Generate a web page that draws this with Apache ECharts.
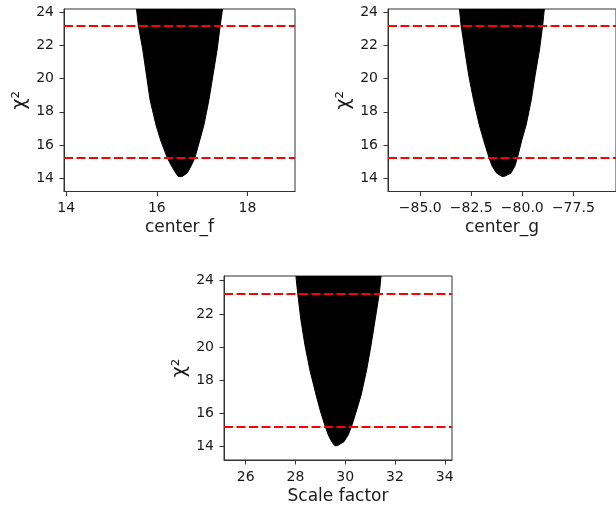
<!DOCTYPE html>
<html><head><meta charset="utf-8">
<script src="https://cdn.jsdelivr.net/npm/echarts@6/dist/echarts.min.js"></script>
<style>html,body{margin:0;padding:0;background:#fff}#c{width:616px;height:509px}</style>
</head><body><div id="c"></div>
<script>
// chi2 levels at which the edges of the sampled (black) region were read
const topLevels = [24.2, 23.23, 21.73, 20.22, 18.72, 17.21, 16.31, 15.22, 14.70, 14.30, 14.10];
const fLeft  = [15.55, 15.59, 15.69, 15.77, 15.85, 15.98, 16.08, 16.23, 16.33, 16.42, 16.47];
const fRight = [17.45, 17.40, 17.33, 17.24, 17.15, 17.04, 16.95, 16.84, 16.75, 16.67, 16.56];
const gLeft  = [-83.08, -83.00, -82.82, -82.63, -82.39, -82.11, -81.90, -81.63, -81.47, -81.26, -81.00];
const gRight = [-78.92, -79.00, -79.16, -79.37, -79.56, -79.81, -80.02, -80.24, -80.37, -80.56, -80.88];
const sLevels = [24.28, 23.24, 21.63, 20.13, 18.62, 17.12, 16.21, 15.25, 14.71, 14.30, 14.06];
const sLeft  = [28.02, 28.09, 28.22, 28.38, 28.58, 28.83, 28.99, 29.19, 29.32, 29.46, 29.58];
const sRight = [31.44, 31.37, 31.20, 31.04, 30.86, 30.64, 30.46, 30.26, 30.12, 29.95, 29.68];
// threshold lines
const thresholds = [15.2, 23.2];
// tick labels
const yTicks = [14, 16, 18, 20, 22, 24];
const fTicks = [14, 16, 18];
const gTicks = [-85.0, -82.5, -80.0, -77.5];
const sTicks = [26, 28, 30, 32, 34];
const xNames = ['center_f', 'center_g', 'Scale factor'];
const yName = 'χ²';

function outline(levels, left, right) {
  const pts = [];
  for (let i = 0; i < levels.length; i++) pts.push([left[i], levels[i]]);
  for (let i = levels.length - 1; i >= 0; i--) pts.push([right[i], levels[i]]);
  return pts;
}
function makePoly(points) {
  return function (params, api) {
    if (params.context.rendered) return;
    params.context.rendered = true;
    const pts = points.map(p => api.coord(p));
    return { type: 'polygon', shape: { points: pts }, style: { fill: '#000', stroke: '#000', lineWidth: 1 } };
  };
}
const fmtMinus = (d) => (v) => {
  const s = d ? Number(v).toFixed(d) : String(Math.round(v));
  return s.replace('-', '\u2212');
};
const font = 'DejaVu Sans';
const tickColor = '#1a1a1a';
function xAxis(idx, min, max, ticks, name, dec) {
  return {
    type: 'value', gridIndex: idx, min: min, max: max,
    name: name, nameLocation: 'middle', nameGap: 28,
    nameTextStyle: { fontFamily: font, fontSize: 17, color: tickColor },
    axisLine: { show: true, lineStyle: { color: '#333', width: 1 } },
    axisTick: { show: true, length: 4.5, customValues: ticks, lineStyle: { color: '#333', width: 1 } },
    axisLabel: { customValues: ticks, margin: 10, fontFamily: font, fontSize: 14, color: tickColor, formatter: fmtMinus(dec) },
    splitLine: { show: false }
  };
}
function yAxis(idx, min, max) {
  return {
    type: 'value', gridIndex: idx, min: min, max: max,
    name: yName, nameLocation: 'middle', nameGap: 34, nameRotate: 90,
    nameTextStyle: { fontFamily: font, fontSize: 19, color: tickColor },
    axisLine: { show: true, lineStyle: { color: '#333', width: 1 } },
    axisTick: { show: true, length: 4.5, customValues: yTicks, lineStyle: { color: '#333', width: 1 } },
    axisLabel: { customValues: yTicks, margin: 10, fontFamily: font, fontSize: 14, color: tickColor },
    splitLine: { show: false }
  };
}
const panels = [
  { pts: outline(topLevels, fLeft, fRight) },
  { pts: outline(topLevels, gLeft, gRight) },
  { pts: outline(sLevels, sLeft, sRight) }
];
const series = [];
panels.forEach((p, i) => {
  series.push({
    type: 'custom', xAxisIndex: i, yAxisIndex: i, clip: true,
    renderItem: makePoly(p.pts), data: p.pts, z: 2, silent: true
  });
  series.push({
    type: 'line', xAxisIndex: i, yAxisIndex: i, data: [], z: 5, silent: true,
    markLine: {
      silent: true, symbol: ['none', 'none'], label: { show: false },
      lineStyle: { color: '#ff0000', width: 2, type: [9, 3.5] },
      data: thresholds.map(t => ({ yAxis: t }))
    }
  });
});
const gridStyle = { show: true, borderColor: '#333', borderWidth: 1, backgroundColor: 'transparent' };
const option = {
  animation: false,
  backgroundColor: '#fff',
  grid: [
    Object.assign({ left: 64, top: 9, width: 231, height: 182.5 }, gridStyle),
    Object.assign({ left: 388, top: 9, width: 231, height: 182.5 }, gridStyle),
    Object.assign({ left: 224, top: 276, width: 228, height: 184 }, gridStyle)
  ],
  xAxis: [
    xAxis(0, 13.95, 19.05, fTicks, xNames[0], 0),
    xAxis(1, -86.58, -75.41, gTicks, xNames[1], 1),
    xAxis(2, 25.13, 34.29, sTicks, xNames[2], 0)
  ],
  yAxis: [
    yAxis(0, 13.19, 24.2),
    yAxis(1, 13.19, 24.2),
    yAxis(2, 13.2, 24.28)
  ],
  series: series
};
const chart = echarts.init(document.getElementById('c'), null, { renderer: 'canvas' });
chart.setOption(option);
</script>
</body></html>
